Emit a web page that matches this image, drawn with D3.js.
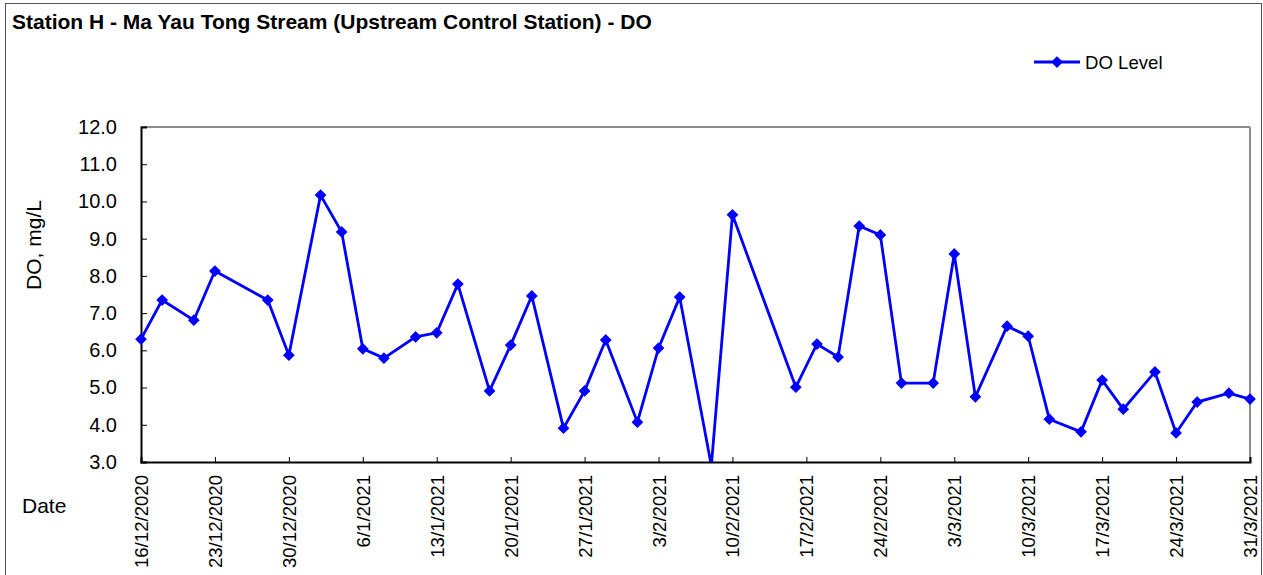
<!DOCTYPE html>
<html><head><meta charset="utf-8">
<script src="https://cdn.jsdelivr.net/npm/d3@7"></script>
<style>body{margin:0;background:#fff}svg{display:block;font-family:Arial,"Liberation Sans",sans-serif}</style>
</head><body>
<svg id="c" width="1263" height="575"></svg>
<script>
const dates = ["2020-12-16","2020-12-18","2020-12-21","2020-12-23","2020-12-28","2020-12-30",
"2021-01-02","2021-01-04","2021-01-06","2021-01-08","2021-01-11","2021-01-13","2021-01-15",
"2021-01-18","2021-01-20","2021-01-22","2021-01-25","2021-01-27","2021-01-29",
"2021-02-01","2021-02-03","2021-02-05","2021-02-08","2021-02-10","2021-02-16","2021-02-18",
"2021-02-20","2021-02-22","2021-02-24","2021-02-26","2021-03-01","2021-03-03","2021-03-05",
"2021-03-08","2021-03-10","2021-03-12","2021-03-15","2021-03-17","2021-03-19","2021-03-22",
"2021-03-24","2021-03-26","2021-03-29","2021-03-31"];
const doLevel = [6.30,7.35,6.81,8.13,7.35,5.87,
10.17,9.18,6.04,5.79,6.36,6.47,7.78,
4.91,6.14,7.46,3.91,4.91,6.28,
4.07,6.06,7.43,2.9,9.64,5.01,6.17,
5.82,9.34,9.10,5.12,5.12,8.59,4.75,
6.65,6.38,4.15,3.81,5.20,4.42,5.42,
3.78,4.61,4.85,4.69];
const yTicks = [3,4,5,6,7,8,9,10,11,12];
const xTickLabels = ["16/12/2020","23/12/2020","30/12/2020","6/1/2021","13/1/2021","20/1/2021","27/1/2021",
"3/2/2021","10/2/2021","17/2/2021","24/2/2021","3/3/2021","10/3/2021","17/3/2021","24/3/2021","31/3/2021"];
const title = "Station H - Ma Yau Tong Stream (Upstream Control Station) - DO";
const seriesName = "DO Level";

const parse = d3.utcParse("%Y-%m-%d");
const parseTick = d3.utcParse("%d/%m/%Y");
const data = dates.map((d,i)=>({date:parse(d), v:doLevel[i]}));
const tickDates = xTickLabels.map(t=>parseTick(t));

const svg = d3.select("#c");
const L=141,R=1250,T=127,B=462;
const x = d3.scaleUtc().domain([parse("2020-12-16"), parse("2021-03-31")]).range([L,R]);
const y = d3.scaleLinear().domain([3,12]).range([B,T]);
const FF = "Arial, 'Liberation Sans', sans-serif";

// outer border
svg.append("rect").attr("x",5.5).attr("y",3.5).attr("width",1256).attr("height",580)
  .attr("fill","none").attr("stroke","#555").attr("stroke-width",1);

svg.append("text").attr("x",12).attr("y",29).attr("font-size",21).attr("font-weight","bold")
  .attr("fill","#000").text(title);

// plot frame top/right gray
svg.append("line").attr("x1",L).attr("x2",R).attr("y1",T).attr("y2",T).attr("stroke","#8c8c8c").attr("stroke-width",2);
svg.append("line").attr("x1",R).attr("x2",R).attr("y1",T).attr("y2",B).attr("stroke","#8c8c8c").attr("stroke-width",2);

// y axis
const ya = svg.append("g").attr("transform",`translate(${L},0)`)
  .call(d3.axisRight(y).tickValues(yTicks).tickSize(6).tickFormat(d3.format(".1f")));
ya.select(".domain").attr("stroke","#000").attr("stroke-width",2);
ya.selectAll(".tick line").attr("stroke","#000").attr("stroke-width",1);
ya.selectAll(".tick text").attr("x",-24).attr("text-anchor","end").attr("font-size",20)
  .attr("font-family",FF).attr("fill","#000");

// x axis
const xa = svg.append("g").attr("transform",`translate(0,${B})`)
  .call(d3.axisTop(x).tickValues(tickDates).tickSize(5).tickFormat((d,i)=>xTickLabels[i]));
xa.select(".domain").attr("stroke","#000").attr("stroke-width",2);
xa.selectAll(".tick line").attr("stroke","#000").attr("stroke-width",1);
xa.selectAll(".tick text").attr("transform","rotate(-90)").attr("x",-13).attr("y",0)
  .attr("dy","0.35em").attr("text-anchor","end").attr("font-size",18.6)
  .attr("font-family",FF).attr("fill","#000");

// axis titles
svg.append("text").attr("transform","translate(41,245) rotate(-90)").attr("text-anchor","middle")
  .attr("font-size",21).attr("fill","#000").text("DO, mg/L");
svg.append("text").attr("x",22).attr("y",513).attr("font-size",21).attr("fill","#000").text("Date");

// clip
svg.append("clipPath").attr("id","clip").append("rect").attr("x",L-8).attr("y",T-8).attr("width",R-L+16).attr("height",B-T+8);
const g = svg.append("g").attr("clip-path","url(#clip)");
const line = d3.line().x(d=>x(d.date)).y(d=>y(d.v));
g.append("path").datum(data).attr("d",line).attr("fill","none").attr("stroke","#0000ff").attr("stroke-width",2.8);
const diamond = d3.symbol().type(d3.symbolDiamond2).size(88);
g.selectAll(".m").data(data.filter(d=>d.v>=3)).join("path").attr("class","m")
  .attr("transform",d=>`translate(${x(d.date)},${y(d.v)})`).attr("d",diamond).attr("fill","#0000ff");

// legend
const lg = svg.append("g");
lg.append("line").attr("x1",1034).attr("x2",1080).attr("y1",62).attr("y2",62).attr("stroke","#0000ff").attr("stroke-width",2.8);
lg.append("path").attr("transform","translate(1057,62)").attr("d",diamond).attr("fill","#0000ff");
lg.append("text").attr("x",1085).attr("y",62).attr("dy","0.35em").attr("font-size",18.6).attr("fill","#000").text(seriesName);
</script>
</body></html>
